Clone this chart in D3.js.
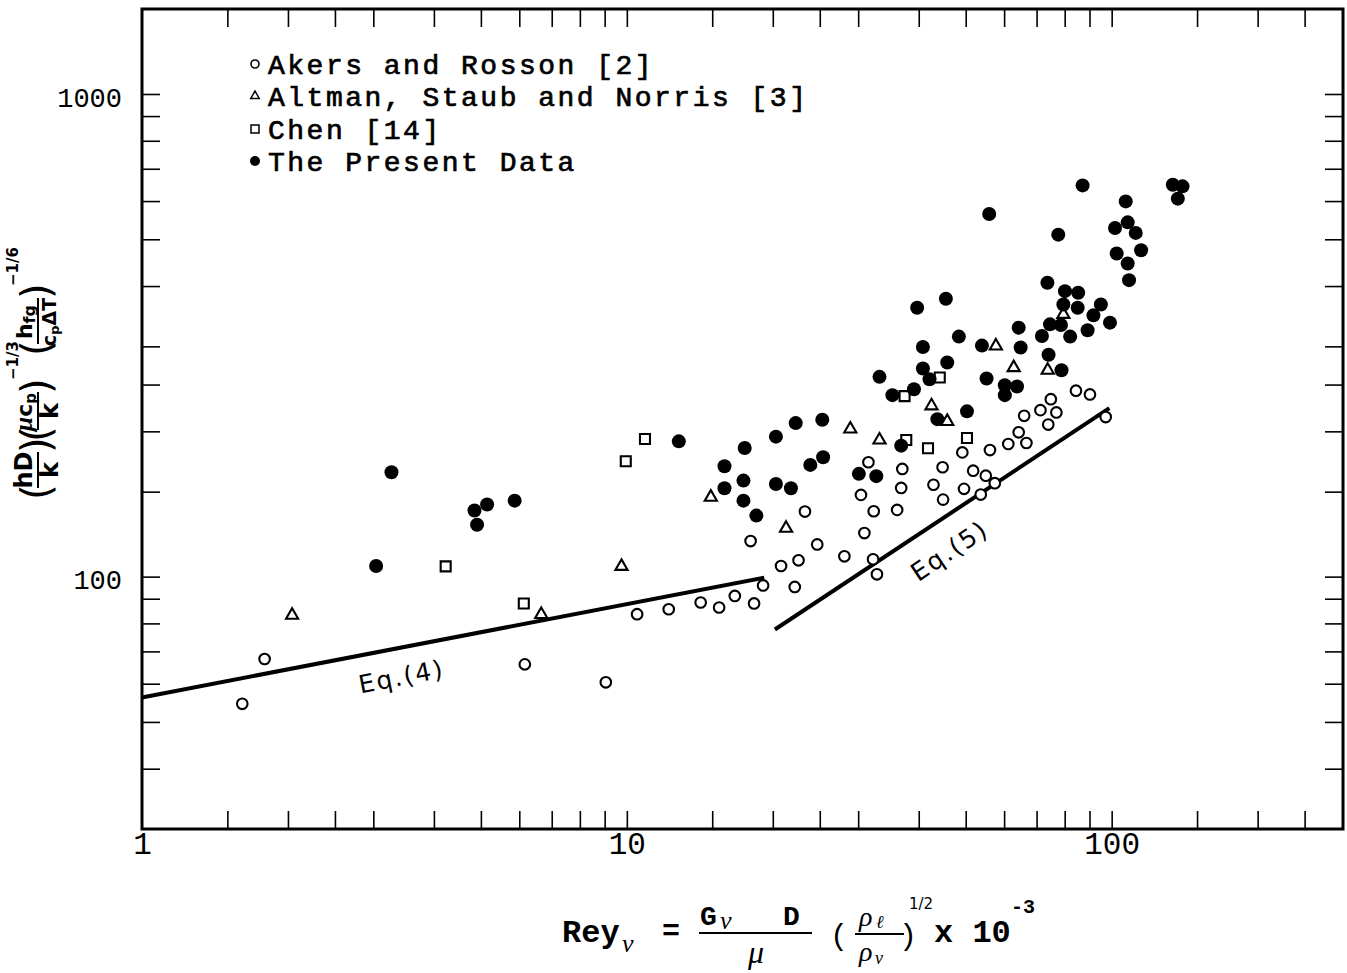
<!DOCTYPE html>
<html><head><meta charset="utf-8">
<script src="https://cdn.jsdelivr.net/npm/d3@7"></script>
<style>body{margin:0;background:#fff}svg{display:block}</style>
</head><body><svg id="c" width="1347" height="973"></svg>
<script>
// ---------- data ----------
const akers = [
[1.61,54.5],[1.79,67.5],[6.16,65.8],[9.05,60.4],[10.5,83.6],[12.2,85.6],[14.2,88.4],[15.5,86.3],[16.7,91.2],[18.3,88.0],[19.1,95.9],[18.0,118.5],[20.8,105.2],[22.6,108.1],[22.2,95.2],[23.3,136.4],[24.7,116.6],[28.1,110.2],[32.2,108.6],[32.8,101.1],[30.9,123.1],[30.4,147.7],[32.3,136.6],[36.1,137.5],[31.5,172.6],[37.0,167.2],[36.8,152.7],[42.9,155.0],[44.8,168.5],[44.9,144.4],[49.2,180.9],[49.6,152.0],[51.8,165.8],[53.7,147.9],[55.0,161.9],[56.1,182.9],[57.4,156.2],[61.2,188.3],[64.3,199.1],[66.7,189.2],[66.0,215.4],[71.3,221.3],[74.0,206.6],[74.9,233.2],[76.9,218.9],[84.4,242.8],[90.2,238.5],[97.2,214.1]
];
const altman = [[2.04,83.2],[6.66,83.5],[9.75,105.0],[14.9,146.1],[21.3,126.0],[28.9,202.2],[33.2,191.9],[42.5,225.9],[45.8,209.7],[57.7,300.6],[62.8,271.0],[73.8,267.7],[79.5,349.4]];
const chen = [[4.23,105.0],[6.13,88.0],[9.95,173.4],[10.9,192.8],[37.4,236.6],[44.2,258.6],[37.7,191.9],[41.8,184.5],[50.3,193.8]];
const present = [
[3.04,105.2],[3.27,164.6],[4.85,137.1],[4.91,128.1],[5.15,141.1],[5.87,143.7],[12.8,190.7],[15.9,169.3],[15.9,152.5],[17.4,158.1],[17.4,143.7],[17.5,184.7],[18.5,133.8],[20.3,195.0],[20.3,155.6],[21.8,152.5],[22.3,208.0],[23.9,170.4],[25.3,211.3],[25.4,176.7],[30.1,163.3],[32.7,161.5],[33.2,259.4],[35.3,237.7],[36.8,186.8],[39.1,244.5],[39.7,360.7],[40.8,299.1],[40.8,270.0],[42.1,256.5],[43.7,212.0],[45.5,376.5],[45.8,277.7],[48.4,314.3],[50.3,220.0],[54.0,301.1],[55.2,257.3],[55.9,564.0],[60.2,249.2],[60.2,237.7],[63.8,247.7],[64.3,328.0],[64.9,298.3],[71.8,315.2],[73.7,406.3],[74.1,288.3],[74.6,333.2],[77.6,511.2],[78.6,332.1],[78.8,267.7],[79.5,366.4],[80.1,390.4],[82.1,314.3],[85.3,387.5],[85.1,360.7],[87.1,646.6],[89.2,323.9],[91.7,347.8],[95.0,366.4],[99.2,335.9],[101.6,527.8],[102.4,467.1],[106.9,599.1],[107.9,542.1],[107.9,445.5],[108.6,411.4],[112.1,515.4],[115.0,474.5],[133.7,648.6],[140.0,643.6],[136.9,606.9]
];
const eq4 = [[1,56.2],[19.2,99.5]];
const eq5 = [[20.2,77.7],[98.9,223.5]];
const eqLabels = [{text:"Eq.(4)", x:3.43, y:62.1}, {text:"Eq.(5)", x:46.3, y:113.2}];
const xDomain = [1,300];
const yDomain = [30,1500];
const xTicks = [1.5,2,2.5,3,4,5,6,7,8,9,10,15,20,25,30,40,50,60,70,80,90,100,150,200,250];
const yTicks = [40,50,60,70,80,90,100,150,200,250,300,400,500,600,700,800,900,1000];
const xLabels = [1,10,100];
const yLabels = [100,1000];
const legendLabels = ["Akers and Rosson [2]","Altman, Staub and Norris [3]","Chen [14]","The Present Data"];

// ---------- drawing ----------
const svg = d3.select('#c');
const x = d3.scaleLog().domain(xDomain).range([142,1343]);
const y = d3.scaleLog().domain(yDomain).range([829,9]);
const MONO = "'Liberation Mono','DejaVu Sans Mono',monospace";
const SANS = "'DejaVu Sans','Liberation Sans',sans-serif";
const SERIF = "'Liberation Serif','DejaVu Serif',serif";

// frame
svg.append('rect').attr('x',x.range()[0]).attr('y',y.range()[1])
  .attr('width',x.range()[1]-x.range()[0]).attr('height',y.range()[0]-y.range()[1])
  .attr('fill','none').attr('stroke','#000').attr('stroke-width',3);

const TL = 18;
function ax(gen, tr){
  const g = svg.append('g').attr('transform',tr).call(gen);
  g.select('.domain').remove();
  g.selectAll('line').attr('stroke','#000').attr('stroke-width',1.6);
  return g;
}
ax(d3.axisBottom(x).tickValues(xTicks).tickSize(-TL).tickFormat(''), `translate(0,${y(yDomain[0])})`);
ax(d3.axisTop(x).tickValues(xTicks).tickSize(-TL).tickFormat(''), `translate(0,${y(yDomain[1])})`);
ax(d3.axisLeft(y).tickValues(yTicks).tickSize(-TL).tickFormat(''), `translate(${x(xDomain[0])},0)`);
ax(d3.axisRight(y).tickValues(yTicks).tickSize(-TL).tickFormat(''), `translate(${x(xDomain[1])},0)`);

const xl = svg.append('g').attr('transform',`translate(0,${y(yDomain[0])})`)
  .call(d3.axisBottom(x).tickValues(xLabels).tickSize(0).tickPadding(3).tickFormat(d3.format('d')));
xl.select('.domain').remove();
xl.selectAll('text').attr('font-family',MONO).attr('font-size',31).attr('fill','#000');

const yl = svg.append('g').attr('transform',`translate(${x(xDomain[0])},0)`)
  .call(d3.axisLeft(y).tickValues(yLabels).tickSize(0).tickPadding(20).tickFormat(d3.format('d')));
yl.select('.domain').remove();
yl.selectAll('text').attr('font-family',MONO).attr('font-size',27).attr('fill','#000').attr('dy','0.45em');

// equation lines
const line = d3.line().x(d=>x(d[0])).y(d=>y(d[1]));
[eq4,eq5].forEach(d=>svg.append('path').datum(d).attr('d',line)
  .attr('fill','none').attr('stroke','#000').attr('stroke-width',4));
const angles = [-11,-34];
eqLabels.forEach((d,i)=>svg.append('text')
  .attr('transform',`translate(${x(d.x)},${y(d.y)}) rotate(${angles[i]})`)
  .attr('text-anchor','middle').attr('dy','0.35em')
  .attr('font-family',SANS).attr('font-size',25).attr('letter-spacing',2)
  .text(d.text));

// points
const gP = svg.append('g');
gP.selectAll('.ak').data(akers).join('circle')
  .attr('cx',d=>x(d[0])).attr('cy',d=>y(d[1])).attr('r',5.3)
  .attr('fill','#fff').attr('stroke','#000').attr('stroke-width',2.1);
const tri = d3.symbol().type(d3.symbolTriangle).size(64);
gP.selectAll('.al').data(altman).join('path')
  .attr('d',tri).attr('transform',d=>`translate(${x(d[0])},${y(d[1])})`)
  .attr('fill','#fff').attr('stroke','#000').attr('stroke-width',2.1);
const sq = d3.symbol().type(d3.symbolSquare).size(100);
gP.selectAll('.ch').data(chen).join('path')
  .attr('d',sq).attr('transform',d=>`translate(${x(d[0])},${y(d[1])})`)
  .attr('fill','#fff').attr('stroke','#000').attr('stroke-width',2.1);
gP.selectAll('.pr').data(present).join('circle')
  .attr('cx',d=>x(d[0])).attr('cy',d=>y(d[1])).attr('r',7).attr('fill','#000');

// legend
const lg = svg.append('g');
const rowY = [64,96,129,161];
legendLabels.forEach((t,i)=>{
  const g = lg.append('g').attr('transform',`translate(255,${rowY[i]})`);
  if(i===0) g.append('circle').attr('r',4).attr('fill','#fff').attr('stroke','#000').attr('stroke-width',1.6);
  if(i===1) g.append('path').attr('d',d3.symbol().type(d3.symbolTriangle).size(32)()).attr('fill','#fff').attr('stroke','#000').attr('stroke-width',1.5);
  if(i===2) g.append('path').attr('d',d3.symbol().type(d3.symbolSquare).size(64)()).attr('fill','#fff').attr('stroke','#000').attr('stroke-width',1.5);
  if(i===3) g.append('circle').attr('r',5).attr('fill','#000');
  g.append('text').attr('x',13).attr('dy','0.36em').attr('font-family',MONO).attr('font-size',28)
    .attr('letter-spacing',2.5).attr('stroke','#000').attr('stroke-width',0.7).text(t);
});

// y-axis title (rotated)
const yt = svg.append('g').attr('transform','translate(36,500) rotate(-90)').attr('fill','#000');
function tx(g, s, lx, ly, size, fam, extra){
  const t = g.append('text').attr('x',lx).attr('y',ly).attr('font-size',size).attr('font-family',fam||SANS).text(s);
  if(extra) extra(t);
  return t;
}
const bold = t=>t.attr('font-weight','bold');
const ital = t=>t.attr('font-style','italic');
const mid = t=>t.attr('text-anchor','middle');
function bar(g,x1,x2,yy){ g.append('line').attr('x1',x1).attr('x2',x2).attr('y1',yy).attr('y2',yy).attr('stroke','#000').attr('stroke-width',2); }
tx(yt,'(',0,14,40);
tx(yt,'hD',30,-4,24,SANS,t=>{bold(t);mid(t);});
bar(yt,12,48,2);
tx(yt,'k',30,22,24,SANS,t=>{bold(t);mid(t);});
tx(yt,')',47,14,40);
tx(yt,'(',58,14,40);
const num2 = yt.append('text').attr('x',88).attr('y',-4).attr('text-anchor','middle').attr('font-family',SANS).attr('font-size',22).attr('font-weight','bold');
num2.append('tspan').attr('font-family',SERIF).attr('font-style','italic').attr('font-size',26).text('μ');
num2.append('tspan').text('c');
num2.append('tspan').attr('font-size',15).attr('dy',4).text('p');
bar(yt,70,108,2);
tx(yt,'k',89,22,24,SANS,t=>{bold(t);mid(t);});
tx(yt,')',106,14,40);
tx(yt,'−1/3',120,-18,15,SANS,bold);
tx(yt,'(',144,14,40);
const num3 = yt.append('text').attr('x',178).attr('y',-4).attr('text-anchor','middle').attr('font-family',SANS).attr('font-size',22).attr('font-weight','bold');
num3.append('tspan').text('h');
num3.append('tspan').attr('font-size',16).attr('dy',3).text('fg');
bar(yt,156,202,2);
const den3 = yt.append('text').attr('x',178).attr('y',20).attr('text-anchor','middle').attr('font-family',SANS).attr('font-size',19).attr('font-weight','bold');
den3.append('tspan').text('c');
den3.append('tspan').attr('font-size',13).attr('dy',3).text('p');
den3.append('tspan').attr('dy',-3).text('ΔT');
tx(yt,')',201,14,40);
tx(yt,'−1/6',214,-18,15,SANS,bold);

// x-axis title
const xt = svg.append('g').attr('fill','#000');
tx(xt,'Rey',562,942,32,MONO,bold);
tx(xt,'ν',622,952,26,SERIF,ital);
tx(xt,'=',662,940,30,MONO,bold);
tx(xt,'G',700,925,28,MONO,bold);
tx(xt,'ν',720,929,26,SERIF,ital);
tx(xt,'D',783,925,28,MONO,bold);
bar(xt,699,812,933);
tx(xt,'μ',756,963,32,SERIF,t=>{ital(t);mid(t);});
tx(xt,'(',830,945,30,MONO);
tx(xt,'ρ',859,926,28,SERIF,ital);
tx(xt,'ℓ',876,928,18,SERIF,ital);
bar(xt,855,904,934);
tx(xt,'ρ',859,961,28,SERIF,ital);
tx(xt,'ν',875,964,18,SERIF,ital);
tx(xt,')',899,945,30,MONO);
tx(xt,'1/2',909,909,15,SANS);
tx(xt,'x 10',934,942,32,MONO,bold);
tx(xt,'-3',1011,913,20,MONO,bold);
</script></body></html>
